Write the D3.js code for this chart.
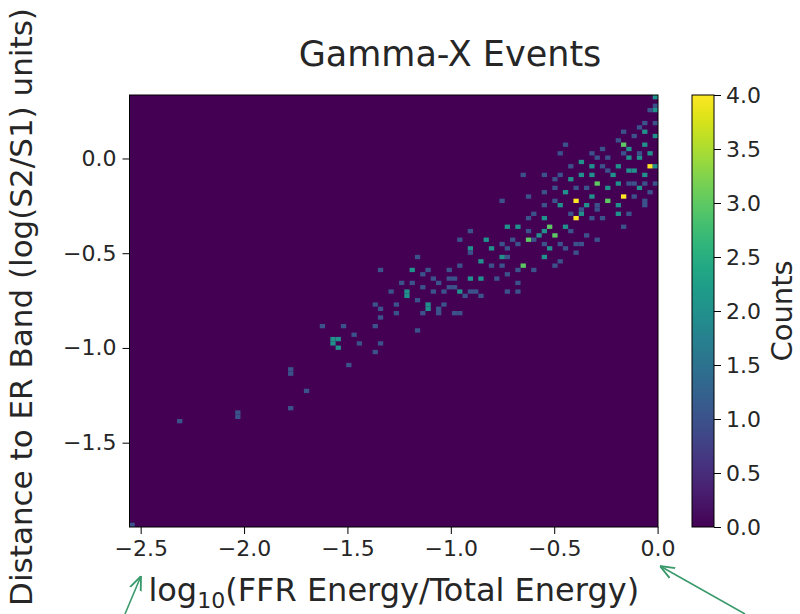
<!DOCTYPE html>
<html>
<head>
<meta charset="utf-8">
<script src="https://cdn.jsdelivr.net/npm/d3@7"></script>
<style>
  body { margin: 0; background: #fff; }
  text { font-family: "DejaVu Sans", sans-serif; fill: #262626; }
</style>
</head>
<body>
<div id="chart"></div>
<script>
// non-empty histogram cells: bin centre (log10 ratio, distance) and count
var cellX = [
  -0.023,-0.052,-0.023,-0.100,-0.168,-0.173,-0.144,-0.071,-0.023,-0.449,
  -0.483,-0.328,-0.265,-0.241,-0.168,-0.100,-0.047,-0.023,-0.424,-0.362,
  -0.313,-0.265,-0.198,-0.134,-0.071,-0.652,-0.560,-0.487,-0.415,-0.362,
  -0.289,-0.245,-0.182,-0.134,-0.023,-0.628,-0.487,-0.449,-0.400,-0.342,
  -0.313,-0.231,-0.168,-0.110,-0.071,-0.507,-0.463,-0.362,-0.294,-0.400,
  -0.366,-0.318,-0.265,-0.182,-0.158,-0.134,-0.763,-0.603,-0.555,-0.536,
  -0.512,-0.458,-0.618,-0.666,-0.715,-0.633,-0.628,-0.580,-0.536,-0.487,
  -0.410,-0.342,-0.289,-0.458,-0.391,-0.894,-0.826,-0.812,-0.763,-0.724,
  -0.676,-0.894,-0.947,-0.947,-0.908,-0.860,-0.812,-0.763,-0.715,-0.657,
  -0.681,-0.603,-0.536,-0.507,-1.112,-1.005,-1.088,-0.971,-0.908,-0.845,
  -0.777,-0.729,-0.681,-1.165,-1.199,-1.247,-1.141,-1.068,-1.015,-0.967,
  -0.908,-0.860,-1.281,-1.213,-1.102,-1.054,-1.136,-1.262,-1.344,-1.189,
  -1.213,-1.165,-1.262,-1.378,-1.344,-1.334,-1.165,-1.624,-1.523,-1.480,
  -1.378,-1.571,-1.571,-1.537,-1.547,-1.450,-1.344,-1.378,-1.499,-1.136,
  -1.015,-1.088,-1.039,-0.981,-0.923,-0.884,-1.112,-1.039,-1.063,-0.991,
  -0.957,-0.715,-0.666,-0.536,-0.507,-0.473,-0.521,-0.473,-0.400,-0.362,
  -0.560,-1.784,-1.784,-1.707,-1.784,-2.036,-2.036,-2.316,-2.539,-0.013,
  -0.013,-0.047,-0.473,-0.328,-0.110,-0.052,-0.119,-0.052,-0.342,-0.080,
  -0.030,-0.200,-0.220,-0.030,-0.090,-0.250,-0.280,-0.130,-0.060,-0.110,
  -0.390,-0.200,-0.560,-0.600,-0.700,-0.750,-0.430,-0.300
];
var cellY = [
  0.319,0.193,0.177,0.166,0.140,0.071,0.061,0.082,0.108,0.071,
  0.029,0.034,0.045,0.008,0.018,0.008,-0.034,-0.050,-0.045,-0.024,
  -0.034,-0.045,-0.034,-0.061,-0.087,-0.087,-0.098,-0.103,-0.113,-0.098,
  -0.129,-0.156,-0.140,-0.124,-0.124,-0.193,-0.156,-0.177,-0.219,-0.166,
  -0.193,-0.219,-0.193,-0.193,-0.219,-0.219,-0.245,-0.261,-0.256,-0.309,
  -0.288,-0.325,-0.314,-0.298,-0.351,-0.298,-0.235,-0.282,-0.314,-0.245,
  -0.351,-0.351,-0.325,-0.351,-0.367,-0.388,-0.430,-0.404,-0.441,-0.404,
  -0.388,-0.414,-0.430,-0.483,-0.456,-0.388,-0.420,-0.472,-0.441,-0.483,
  -0.446,-0.483,-0.430,-0.562,-0.493,-0.536,-0.573,-0.573,-0.525,-0.562,
  -0.588,-0.588,-0.525,-0.562,-0.578,-0.588,-0.631,-0.625,-0.631,-0.625,
  -0.631,-0.604,-0.668,-0.525,-0.599,-0.668,-0.678,-0.652,-0.683,-0.694,
  -0.710,-0.720,-0.704,-0.736,-0.773,-0.799,-0.810,-0.773,-0.578,-0.652,
  -0.694,-0.747,-0.810,-0.762,-0.789,-0.831,-0.905,-0.879,-0.879,-0.921,
  -0.879,-0.947,-0.984,-0.995,-0.958,-0.968,-0.968,-1.021,-1.079,-0.604,
  -0.641,-0.694,-0.694,-0.678,-0.736,-0.694,-0.799,-0.762,-0.826,-0.826,
  -0.810,-0.694,-0.710,-0.388,-0.414,-0.446,-0.483,-0.551,-0.493,-0.456,
  -0.520,-1.105,-1.127,-1.216,-1.311,-1.343,-1.364,-1.385,-1.923,0.282,
  0.245,0.256,-0.098,-0.098,-0.071,-0.129,-0.129,-0.245,-0.245,0.030,
  0.030,0.090,-0.090,-0.180,-0.160,-0.060,0.000,0.010,0.140,0.110,
  -0.150,-0.250,-0.170,-0.440,-0.420,-0.520,-0.290,-0.280
];
var cellCount = [
  2,1,1,1,1,3,2,2,2,1,
  1,1,1,1,1,2,4,2,1,2,
  2,1,2,2,2,1,1,1,2,2,
  3,2,2,1,1,1,1,2,4,1,
  2,3,4,1,1,1,2,1,1,4,
  2,1,1,2,1,1,1,1,2,1,
  3,2,1,2,2,1,3,2,1,1,
  1,1,1,1,1,1,2,2,1,1,
  1,2,1,1,1,2,1,1,1,3,
  1,1,1,1,1,1,1,1,2,2,
  1,1,1,1,2,1,1,1,1,2,
  1,1,1,2,2,1,1,1,1,1,
  2,1,1,1,1,1,1,1,1,1,
  1,2,2,2,2,1,1,1,1,1,
  1,1,1,1,1,1,2,1,1,1,
  1,1,1,2,2,1,2,1,1,1,
  1,1,1,1,1,1,1,1,1,1,
  2,1,1,2,2,1,1,1,2,1,
  2,1,2,1,2,1,1,2,2,1,
  1,2,1,1,1,2,1,1
];

var xTicks = [-2.5, -2.0, -1.5, -1.0, -0.5, 0.0];
var yTicks = [0.0, -0.5, -1.0, -1.5];
var countTicks = [0, 0.5, 1, 1.5, 2, 2.5, 3, 3.5, 4];
var xExtent = [-2.554, 0.002];
var yExtent = [-1.945, 0.335];
var nBins = 100;
var maxCount = 4;

var width = 800, height = 614;
var plot = {left: 129.5, right: 658, top: 95, bottom: 527};
var bar = {left: 692, right: 714};

var svg = d3.select("#chart").append("svg")
  .attr("width", width)
  .attr("height", height);

var x = d3.scaleLinear().domain(xExtent).range([plot.left, plot.right]);
var y = d3.scaleLinear().domain(yExtent).range([plot.bottom, plot.top]);
var color = function(c) { return d3.interpolateViridis(Math.min(c, maxCount) / maxCount); };

// bin the cells onto the 100 x 100 grid
var bw = (xExtent[1] - xExtent[0]) / nBins;
var bh = (yExtent[1] - yExtent[0]) / nBins;
var grid = new Map();
cellX.forEach(function(v, i) {
  var ix = Math.max(0, Math.min(nBins - 1, Math.floor((v - xExtent[0]) / bw)));
  var iy = Math.max(0, Math.min(nBins - 1, Math.floor((cellY[i] - yExtent[0]) / bh)));
  var key = ix + "," + iy;
  var prev = grid.get(key);
  grid.set(key, {ix: ix, iy: iy, count: (prev ? prev.count : 0) + cellCount[i]});
});
var bins = Array.from(grid.values());

svg.append("rect")
  .attr("x", plot.left).attr("y", plot.top)
  .attr("width", plot.right - plot.left).attr("height", plot.bottom - plot.top)
  .attr("fill", color(0));

svg.append("g").selectAll("rect")
  .data(bins)
  .enter().append("rect")
    .attr("x", function(d) { return x(xExtent[0] + d.ix * bw); })
    .attr("y", function(d) { return y(yExtent[0] + (d.iy + 1) * bh); })
    .attr("width", function(d) { return x(xExtent[0] + (d.ix + 1) * bw) - x(xExtent[0] + d.ix * bw); })
    .attr("height", function(d) { return y(yExtent[0] + d.iy * bh) - y(yExtent[0] + (d.iy + 1) * bh); })
    .attr("fill", function(d) { return color(d.count); });

svg.append("rect")
  .attr("x", plot.left).attr("y", plot.top)
  .attr("width", plot.right - plot.left).attr("height", plot.bottom - plot.top)
  .attr("fill", "none").attr("stroke", "#000").attr("stroke-width", 1);

var fmt = d3.format(".1f");

var xAxis = svg.append("g")
  .attr("transform", "translate(0," + plot.bottom + ")")
  .call(d3.axisBottom(x).tickValues(xTicks).tickFormat(fmt).tickSize(7).tickPadding(6));
xAxis.select(".domain").remove();
xAxis.selectAll("text").style("font-size", "22px").attr("fill", "#262626");

var yAxis = svg.append("g")
  .attr("transform", "translate(" + plot.left + ",0)")
  .call(d3.axisLeft(y).tickValues(yTicks).tickFormat(fmt).tickSize(7).tickPadding(6));
yAxis.select(".domain").remove();
yAxis.selectAll("text").style("font-size", "22px").attr("fill", "#262626");

// colour bar
var cb = d3.scaleLinear().domain([0, maxCount]).range([plot.bottom, plot.top]);
var grad = svg.append("defs").append("linearGradient")
  .attr("id", "viridis").attr("x1", 0).attr("y1", 1).attr("x2", 0).attr("y2", 0);
d3.range(0, 1.0001, 0.05).forEach(function(t) {
  grad.append("stop").attr("offset", t).attr("stop-color", d3.interpolateViridis(t));
});
svg.append("rect")
  .attr("x", bar.left).attr("y", plot.top)
  .attr("width", bar.right - bar.left).attr("height", plot.bottom - plot.top)
  .attr("fill", "url(#viridis)").attr("stroke", "#000").attr("stroke-width", 1);

var cAxis = svg.append("g")
  .attr("transform", "translate(" + bar.right + ",0)")
  .call(d3.axisRight(cb).tickValues(countTicks).tickFormat(fmt).tickSize(7).tickPadding(5));
cAxis.select(".domain").remove();
cAxis.selectAll("text").style("font-size", "22px").attr("fill", "#262626");

svg.append("text")
  .attr("transform", "translate(792," + (plot.top + plot.bottom) / 2 + ") rotate(-90)")
  .attr("text-anchor", "middle")
  .style("font-size", "29px")
  .text("Counts");

// titles
svg.append("text")
  .attr("x", 450).attr("y", 66)
  .attr("text-anchor", "middle")
  .style("font-size", "35px")
  .text("Gamma-X Events");

var xl = svg.append("text")
  .attr("x", (plot.left + plot.right) / 2).attr("y", 601)
  .attr("text-anchor", "middle")
  .style("font-size", "32px");
xl.append("tspan").text("log");
xl.append("tspan").attr("dy", 7).style("font-size", "22px").text("10");
xl.append("tspan").attr("dy", -7).text("(FFR Energy/Total Energy)");

svg.append("text")
  .attr("transform", "translate(32,307) rotate(-90)")
  .attr("text-anchor", "middle")
  .style("font-size", "31px")
  .text("Distance to ER Band (log(S2/S1) units)");

// annotation arrows
var defs = svg.select("defs");
defs.append("marker")
  .attr("id", "head").attr("viewBox", "0 0 10 10")
  .attr("refX", 10).attr("refY", 5)
  .attr("markerWidth", 9).attr("markerHeight", 9)
  .attr("orient", "auto")
  .append("path").attr("d", "M0,1 L10,5 L0,9")
  .attr("fill", "none").attr("stroke", "#3a9a6c").attr("stroke-width", 1.3);

[[125, 614, 141, 576], [745, 614, 660, 566]].forEach(function(a) {
  svg.append("line")
    .attr("x1", a[0]).attr("y1", a[1]).attr("x2", a[2]).attr("y2", a[3])
    .attr("stroke", "#3a9a6c").attr("stroke-width", 1.6)
    .attr("marker-end", "url(#head)");
});
</script>
</body>
</html>
